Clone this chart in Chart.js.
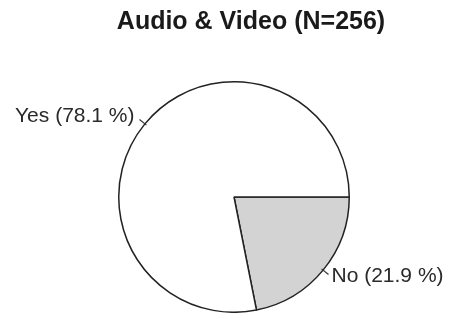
<!DOCTYPE html>
<html>
<head>
<meta charset="utf-8">
<script src="https://cdn.jsdelivr.net/npm/chart.js@4/dist/chart.umd.min.js"></script>
<style>
  html, body { margin: 0; padding: 0; background: #fff; }
  #wrap { width: 450px; height: 313px; }
</style>
</head>
<body>
<div id="wrap"><canvas id="pieChart"></canvas></div>
<script>
// Audio & Video survey answers
const chartTitle = "Audio & Video (N=256)";
const categories = ["No", "Yes"];
const counts = [56, 200];
const sliceColors = ["#d3d3d3", "#ffffff"];

const total = counts.reduce((a, b) => a + b, 0);

// draws title and "Label (xx.x %)" text with small tick at each slice
const labelPlugin = {
  id: "sliceLabels",
  afterDraw(chart) {
    const ctx = chart.ctx;
    ctx.save();
    ctx.fillStyle = "#1a1a1a";
    ctx.font = "bold 25px 'Liberation Sans', Arial, sans-serif";
    ctx.textAlign = "center";
    ctx.textBaseline = "middle";
    ctx.fillText(chartTitle, 251, 22);

    const meta = chart.getDatasetMeta(0);
    ctx.font = "21px 'Liberation Sans', Arial, sans-serif";
    meta.data.forEach((arc, i) => {
      const p = arc.getProps(["x", "y", "startAngle", "endAngle", "outerRadius"], true);
      const mid = (p.startAngle + p.endAngle) / 2;
      const cos = Math.cos(mid), sin = Math.sin(mid);
      const r0 = p.outerRadius - 2, r1 = p.outerRadius + 7;
      ctx.strokeStyle = "#333";
      ctx.lineWidth = 1.2;
      ctx.beginPath();
      ctx.moveTo(p.x + cos * r0, p.y + sin * r0);
      ctx.lineTo(p.x + cos * r1, p.y + sin * r1);
      ctx.stroke();
      const pct = (counts[i] / total * 100).toFixed(1);
      const text = categories[i] + " (" + pct + " %)";
      const tx = p.x + cos * r1;
      const ty = p.y + sin * r1;
      ctx.fillStyle = "#2a2a2a";
      if (cos >= 0) {
        ctx.textAlign = "left";
        ctx.fillText(text, tx + 3, ty + 2);
      } else {
        ctx.textAlign = "right";
        ctx.fillText(text, tx - 5, ty - 3);
      }
    });
    ctx.restore();
  }
};

new Chart(document.getElementById("pieChart").getContext("2d"), {
  type: "pie",
  data: {
    labels: categories,
    datasets: [
      {
        data: counts,
        backgroundColor: sliceColors,
        borderColor: "#222",
        borderWidth: 1.5,
      },
    ],
  },
  options: {
    responsive: true,
    maintainAspectRatio: false,
    animation: false,
    rotation: 90,
    layout: {
      padding: { top: 81, bottom: 0, left: 18, right: 0 },
    },
    plugins: {
      legend: { display: false },
      tooltip: { enabled: false },
      title: { display: false },
    },
  },
  plugins: [labelPlugin],
});
</script>
</body>
</html>
